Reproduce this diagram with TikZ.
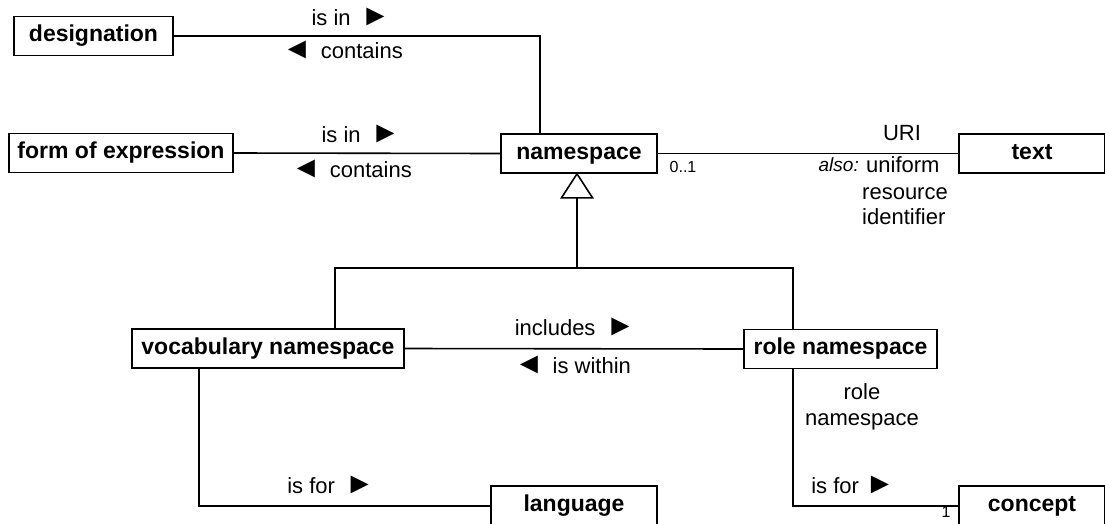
\documentclass[tikz,border=0pt]{standalone}
\usepackage{fontspec}
\setmainfont{Liberation Sans}
\usetikzlibrary{calc}
\newcommand\rtri{{\fontsize{30}{30}\selectfont ►}}
\newcommand\ltri{{\fontsize{30}{30}\selectfont ◄}}
\begin{document}
\begin{tikzpicture}[x=1pt,y=-1pt,
  box/.style={draw, line width=1.6pt, inner sep=0pt, font=\fontsize{23}{27}\selectfont\bfseries, text height=16.5pt, text depth=5pt, minimum height=39pt},
  lbl/.style={inner sep=0pt, font=\fontsize{22}{26}\selectfont, text height=11.5pt, text depth=0pt},
  small/.style={inner sep=0pt, font=\fontsize{16}{19}\selectfont, text height=8.5pt, text depth=0pt},
  conn/.style={line width=1.6pt}]
\useasboundingbox (0,0) rectangle (1105,523);
\clip (0,0) rectangle (1105,523);
% boxes
\node[box, minimum width=159pt] (designation) at (93.5,36) {designation};
\node[box, minimum width=224pt] (form) at (121,153) {form of expression};
\node[box, minimum width=156pt] (namespace) at (579,153.5) {namespace};
\node[box, minimum width=146pt] (text) at (1032,153.5) {text};
\node[box, minimum width=272pt] (vocab) at (268,348.5) {vocabulary namespace};
\node[box, minimum width=193pt] (role) at (840.5,349) {role namespace};
\node[box, minimum width=166pt, minimum height=40pt] (language) at (574,506) {language};
\node[box, minimum width=146pt, minimum height=40pt] (concept) at (1032,506) {concept};
% coordinates
\coordinate (dk) at (540,36);
\coordinate (gj) at (577,268);
\coordinate (vl) at (335,268);
\coordinate (rl) at (793,268);
\coordinate (vk) at (199,506);
\coordinate (rk) at (793,506);
% connectors
\draw[conn] (designation.east) -- (dk) -- (dk |- namespace.north);
\draw[conn] (form.east) -- (namespace.west);
\draw[conn] (namespace.east) -- (text.west);
\draw[conn] (vocab.east) -- (role.west);
\draw[conn] (vocab.north -| vl) -- (vl) -- (rl) -- (role.north -| rl);
\draw[conn] (gj) -- ($(gj |- namespace.south)+(0,24)$);
\draw[conn, fill=white] (gj |- namespace.south) -- ++(-15.5,24) -- ++(31,0) -- cycle;
\draw[conn] (vocab.south -| vk) -- (vk) -- (language.west);
\draw[conn] (role.south -| rk) -- (rk) -- (concept.west);
% labels
\node[lbl] (l1) at (351,20) {is in\hspace{10pt}\rtri};
\node[lbl] (l2) at (342.5,53) {\ltri\hspace{9pt}contains};
\node[lbl] (l3) at (361,137) {is in\hspace{10pt}\rtri};
\node[lbl] (l4) at (351.5,172) {\ltri\hspace{9pt}contains};
\node[lbl] (uri) at (902,135) {URI};
\node[lbl, anchor=west] (u1) at (866,167) {uniform};
\node[lbl, anchor=west] (u2) at (862,194) {resource};
\node[lbl, anchor=west] (u3) at (862,219) {identifier};
\node[small, anchor=east, font=\fontsize{19}{22}\selectfont\itshape] (also) at ([xshift=-7pt]u1.west) {also:};
\node[small] (m01) at (683,168) {0..1};
\node[lbl] (l5) at (575,330) {includes\hspace{10pt}\rtri};
\node[lbl] (l6) at (572.5,368) {\ltri\hspace{9pt}is within};
\node[lbl, align=center] (rn) at (862,420) {role\\namespace};
\node[lbl] (l7) at (331,488) {is for\hspace{10pt}\rtri};
\node[lbl] (l8) at (853,488) {is for\hspace{6pt}\rtri};
\node[small] (m1) at (946,513) {1};
\end{tikzpicture}
\end{document}
